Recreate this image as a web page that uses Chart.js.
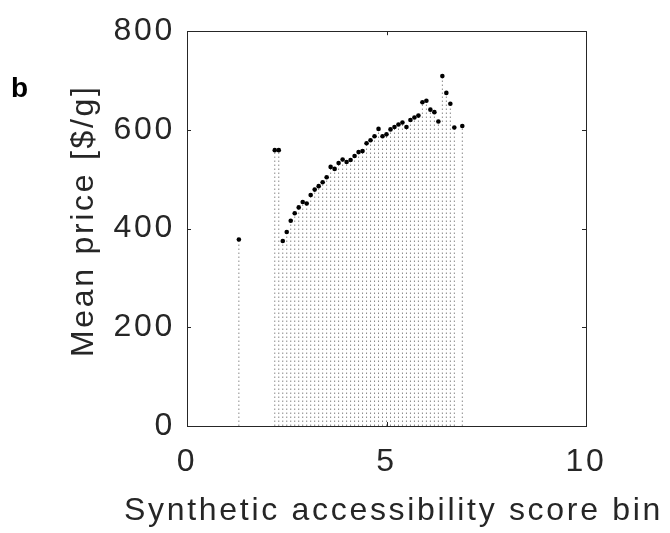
<!DOCTYPE html>
<html>
<head>
<meta charset="utf-8">
<script src="https://cdn.jsdelivr.net/npm/chart.js@4/dist/chart.umd.min.js"></script>
<style>
  html, body { margin: 0; padding: 0; background: #ffffff; }
  #wrap { width: 670px; height: 533px; }
</style>
</head>
<body>
<div id="wrap"><canvas id="c" width="670" height="533"></canvas></div>
<script>
// ---- Data ----
const panelLabel = 'b';
const xTitle = 'Synthetic accessibility score bin';
const yTitle = 'Mean price [$/g]';
const xTickValues = [0, 5, 10];
const yTickValues = [0, 200, 400, 600, 800];

const scoreBins = [1.3, 2.2, 2.3, 2.4, 2.5, 2.6, 2.7, 2.8, 2.9, 3.0,
                   3.1, 3.2, 3.3, 3.4, 3.5, 3.6, 3.7, 3.8, 3.9, 4.0,
                   4.1, 4.2, 4.3, 4.4, 4.5, 4.6, 4.7, 4.8, 4.9, 5.0,
                   5.1, 5.2, 5.3, 5.4, 5.5, 5.6, 5.7, 5.8, 5.9, 6.0,
                   6.1, 6.2, 6.3, 6.4, 6.5, 6.6, 6.7, 6.9];
const meanPrice = [378, 559, 559, 375, 393, 416, 431, 443, 454, 451,
                   468, 479, 486, 494, 504, 525, 521, 533, 540, 535,
                   539, 547, 555, 557, 573, 579, 587, 602, 587, 591,
                   601, 606, 611, 615, 606, 620, 625, 629, 656, 659,
                   641, 636, 617, 709, 675, 653, 605, 608];

// ---- Build datasets ----
const points = scoreBins.map((x, i) => ({ x: x, y: meanPrice[i] }));
const stems = [];
scoreBins.forEach((x, i) => {
  stems.push({ x: x, y: 0 });
  stems.push({ x: x, y: meanPrice[i] });
  stems.push({ x: x, y: null });
});

const FONT = '"Liberation Sans", Arial, Helvetica, sans-serif';
const INK = '#262626';
const SPACING = '2.7px';
const FS = 32;

const spacingPlugin = {
  id: 'spacingPlugin',
  beforeLayout(chart) { chart.ctx.letterSpacing = SPACING; },
  beforeDraw(chart) { chart.ctx.letterSpacing = SPACING; }
};

const boxPlugin = {
  id: 'boxPlugin',
  afterDraw(chart) {
    const { ctx, chartArea: a, scales } = chart;
    ctx.save();
    ctx.strokeStyle = INK;
    ctx.lineWidth = 1;
    ctx.beginPath();
    ctx.rect(Math.round(a.left) + 0.5, Math.round(a.top) + 0.5,
             Math.round(a.right - a.left), Math.round(a.bottom - a.top));
    ctx.stroke();
    const tl = 4;
    ctx.beginPath();
    xTickValues.forEach(v => {
      const px = Math.round(scales.x.getPixelForValue(v)) + 0.5;
      ctx.moveTo(px, a.bottom); ctx.lineTo(px, a.bottom - tl);
      ctx.moveTo(px, a.top); ctx.lineTo(px, a.top + tl);
    });
    yTickValues.forEach(v => {
      const py = Math.round(scales.y.getPixelForValue(v)) + 0.5;
      ctx.moveTo(a.left, py); ctx.lineTo(a.left + tl, py);
      ctx.moveTo(a.right, py); ctx.lineTo(a.right - tl, py);
    });
    ctx.stroke();

    // axis titles (tracked text, drawn without width compression)
    ctx.letterSpacing = SPACING;
    ctx.fillStyle = INK;
    ctx.font = FS + 'px ' + FONT;
    ctx.textBaseline = 'alphabetic';
    ctx.textAlign = 'left';
    ctx.fillText(xTitle, 124, 520);

    ctx.save();
    ctx.translate(93, 357);
    ctx.rotate(-Math.PI / 2);
    ctx.fillText(yTitle, 0, 0);
    ctx.restore();

    // panel label
    ctx.letterSpacing = '0px';
    ctx.fillStyle = '#000000';
    ctx.font = 'bold 28px ' + FONT;
    ctx.fillText(panelLabel, 11, 97);
    ctx.restore();
  }
};

new Chart(document.getElementById('c'), {
  type: 'scatter',
  data: {
    datasets: [
      {
        type: 'scatter',
        data: points,
        order: 0,
        backgroundColor: '#000000',
        borderColor: '#000000',
        pointRadius: 2.3,
        pointHoverRadius: 2.3,
        borderWidth: 0
      },
      {
        type: 'line',
        data: stems,
        order: 1,
        spanGaps: false,
        borderColor: '#8a8a8a',
        borderWidth: 1,
        borderDash: [1.5, 2.5],
        pointRadius: 0,
        fill: false,
        tension: 0
      }
    ]
  },
  options: {
    responsive: false,
    animation: false,
    devicePixelRatio: 1,
    layout: { padding: { left: 65, right: 84, top: 27, bottom: 5 } },
    plugins: { legend: { display: false }, tooltip: { enabled: false } },
    scales: {
      x: {
        type: 'linear',
        min: 0, max: 10,
        afterFit(s) { s.height = 102; },
        afterBuildTicks(s) { s.ticks = xTickValues.map(v => ({ value: v })); },
        grid: { display: false, drawTicks: false },
        border: { display: true, color: INK, width: 1 },
        ticks: { padding: 17, color: INK, font: { family: FONT, size: FS }, maxRotation: 0 },
        title: { display: false, text: xTitle }
      },
      y: {
        type: 'linear',
        min: 0, max: 800,
        afterFit(s) { s.width = 122; },
        afterBuildTicks(s) { s.ticks = yTickValues.map(v => ({ value: v })); },
        grid: { display: false, drawTicks: false },
        border: { display: true, color: INK, width: 1 },
        ticks: { padding: 12, color: INK, font: { family: FONT, size: FS } },
        title: { display: false, text: yTitle }
      }
    }
  },
  plugins: [spacingPlugin, boxPlugin]
});
</script>
</body>
</html>
